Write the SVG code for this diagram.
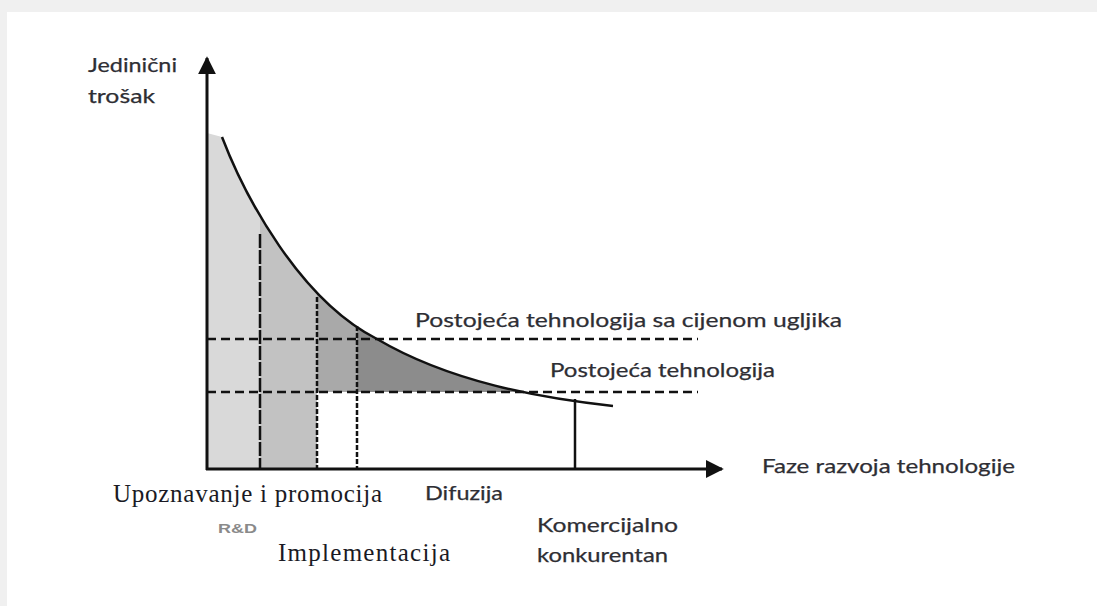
<svg xmlns="http://www.w3.org/2000/svg" width="1097" height="606" viewBox="0 0 1097 606">
<style>
.sans{font-family:Lato,"Open Sans","Liberation Sans",sans-serif;font-size:20px;fill:#2e2e34;stroke:#2e2e34;stroke-width:0.25}
.serif{font-family:"Liberation Serif","Times New Roman",serif;font-size:25px;fill:#1a1a24}
.small{font-family:"Liberation Sans",Arial,sans-serif;font-size:12px;font-weight:bold;fill:#8a8a8a}
.axis{stroke:#111;stroke-width:3;fill:none}
.dash{stroke:#111;stroke-width:2.5;fill:none;stroke-dasharray:9 5}
.vdot{stroke:#111;stroke-width:2.5;fill:none;stroke-dasharray:5 2}
.curve{stroke:#111;stroke-width:2.5;fill:none}
</style>
<defs>
<marker id="ah" viewBox="0 0 10 10" refX="9" refY="5" markerWidth="6" markerHeight="6" orient="auto" markerUnits="strokeWidth">
<path d="M0,0 L10,5 L0,10 Z" fill="#111"/>
</marker>
<path id="area" d="M207,469 V133 L222,137 C245,197 300,300 377,339 C450,382 540,398 613,406 L613,469 Z"/>
<clipPath id="c1"><rect x="207" y="100" width="53" height="370"/></clipPath>
<clipPath id="c2"><rect x="260" y="100" width="57" height="370"/></clipPath>
<clipPath id="c3"><rect x="317" y="100" width="40" height="292"/></clipPath>
<clipPath id="c4"><rect x="357" y="100" width="300" height="292"/></clipPath>
</defs>
<rect width="1097" height="606" fill="#f0f0f0"/>
<rect x="7" y="12" width="1090" height="594" fill="#ffffff"/>
<g id="shading">
<use href="#area" fill="#d9d9d9" clip-path="url(#c1)"/>
<use href="#area" fill="#c2c2c2" clip-path="url(#c2)"/>
<use href="#area" fill="#a9a9a9" clip-path="url(#c3)"/>
<use href="#area" fill="#8c8c8c" clip-path="url(#c4)"/>
</g>
<g id="connectors">
<line class="dash" x1="207" y1="339" x2="698" y2="339"/>
<line class="dash" x1="207" y1="392" x2="698" y2="392"/>
<line class="vdot" x1="260" y1="234" x2="260" y2="469" style="stroke-dasharray:14 2"/>
<line class="vdot" x1="317" y1="297" x2="317" y2="469"/>
<line class="vdot" x1="357" y1="326" x2="357" y2="469"/>
<line class="axis" x1="575" y1="399" x2="575" y2="469" style="stroke-width:2.5"/>
<path id="cost-curve" class="curve" d="M222,137 C245,197 300,300 377,339 C450,382 540,398 613,406"/>
<line class="axis" x1="207" y1="470" x2="207" y2="58" marker-end="url(#ah)"/>
<line class="axis" x1="206" y1="469" x2="722" y2="469" marker-end="url(#ah)"/>
</g>
<g id="y-label">
<text class="sans" x="88" y="72" textLength="89" lengthAdjust="spacingAndGlyphs">Jedinični</text>
<text class="sans" x="88" y="103" textLength="67" lengthAdjust="spacingAndGlyphs">trošak</text>
</g>
<g id="x-label"><text class="sans" x="762" y="473" textLength="253" lengthAdjust="spacingAndGlyphs">Faze razvoja tehnologije</text></g>
<g id="carbon-line-label"><text class="sans" x="415" y="327" textLength="427" lengthAdjust="spacingAndGlyphs">Postojeća tehnologija sa cijenom ugljika</text></g>
<g id="existing-line-label"><text class="sans" x="550" y="377" textLength="225" lengthAdjust="spacingAndGlyphs">Postojeća tehnologija</text></g>
<g id="phase-upoznavanje"><text class="serif" x="113" y="502" textLength="269" lengthAdjust="spacing">Upoznavanje i promocija</text></g>
<g id="phase-rd"><text class="small" x="218" y="533" textLength="39" lengthAdjust="spacingAndGlyphs">R&amp;D</text></g>
<g id="phase-implementacija"><text class="serif" x="278" y="561" textLength="172" lengthAdjust="spacing">Implementacija</text></g>
<g id="phase-difuzija"><text class="sans" x="425" y="500" textLength="78" lengthAdjust="spacingAndGlyphs">Difuzija</text></g>
<g id="phase-komercijalno">
<text class="sans" x="537" y="532" textLength="141" lengthAdjust="spacingAndGlyphs">Komercijalno</text>
<text class="sans" x="537" y="562" textLength="131" lengthAdjust="spacingAndGlyphs">konkurentan</text>
</g>
</svg>
